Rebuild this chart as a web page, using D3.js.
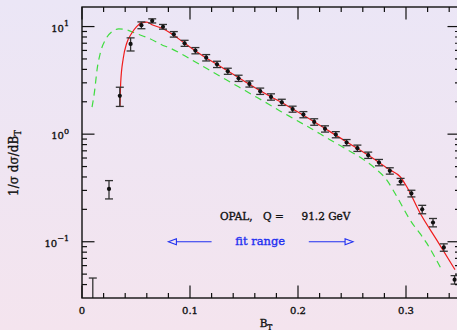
<!DOCTYPE html>
<html>
<head>
<meta charset="utf-8">
<script src="https://cdn.jsdelivr.net/npm/d3@7"></script>
<style>
	html, body { margin: 0; padding: 0; }
	body { width: 457px; height: 330px; overflow: hidden; }
	svg { display: block; }
</style>
</head>
<body>
<div id="chart"></div>
<script>
"use strict";

// OPAL 측정값 (B_T 빈 중심, 1/sigma dsigma/dB_T, 오차)
var btBins = [0.01, 0.025, 0.035, 0.045, 0.055, 0.065, 0.075, 0.085, 0.095, 0.105,
	0.115, 0.125, 0.135, 0.145, 0.155, 0.165, 0.175, 0.185, 0.195, 0.205,
	0.215, 0.225, 0.235, 0.245, 0.255, 0.265, 0.275, 0.285, 0.295, 0.305,
	0.315, 0.325, 0.335, 0.345];
var dataVals = [0.025, 0.31, 2.27, 6.89, 10.3, 11.3, 9.96, 8.48, 7.0, 5.98,
	5.14, 4.46, 3.85, 3.31, 2.93, 2.51, 2.22, 1.98, 1.71, 1.52,
	1.30, 1.12, 0.99, 0.836, 0.741, 0.638, 0.545, 0.456, 0.363, 0.281,
	0.200, 0.151, 0.0886, 0.0444];
var dataErrs = [0.021, 0.06, 0.46, 0.96, 0.75, 0.5, 0.5, 0.5, 0.45, 0.4,
	0.35, 0.3, 0.25, 0.22, 0.19, 0.17, 0.15, 0.13, 0.11, 0.10,
	0.09, 0.075, 0.065, 0.055, 0.05, 0.043, 0.037, 0.031, 0.025, 0.02,
	0.018, 0.0135, 0.007, 0.004];

// 이론 곡선 (빨강: 실선, 초록: 점선)
var redBt = [0.0352, 0.0358, 0.0382, 0.0414, 0.046, 0.0506, 0.0553, 0.06, 0.0648, 0.0741,
	0.0833, 0.095, 0.11, 0.13, 0.15, 0.17, 0.19, 0.21, 0.23, 0.25,
	0.27, 0.285, 0.2944, 0.3006, 0.313, 0.3284, 0.3454];
var redVals = [1.79, 2.98, 5.08, 7.0, 8.67, 9.98, 10.9, 11.0, 10.4, 9.64,
	8.53, 7.0, 5.5, 4.15, 3.12, 2.37, 1.84, 1.40, 1.05, 0.79,
	0.59, 0.466, 0.404, 0.326, 0.185, 0.104, 0.055];
var greenBt = [0.0093, 0.0118, 0.0139, 0.0169, 0.0216, 0.0278, 0.034, 0.0417, 0.0494, 0.0618,
	0.0741, 0.0818, 0.0938, 0.103, 0.1139, 0.1278, 0.1386, 0.151, 0.1618, 0.1725,
	0.1849, 0.1956, 0.208, 0.2296, 0.242, 0.2544, 0.2705, 0.2821, 0.2914, 0.3037,
	0.3192, 0.333];
var greenVals = [1.78, 2.58, 3.95, 5.65, 7.51, 8.97, 9.50, 9.30, 8.66, 7.79,
	6.75, 6.29, 5.45, 4.82, 4.17, 3.46, 3.00, 2.54, 2.20, 1.91,
	1.61, 1.40, 1.19, 0.889, 0.753, 0.638, 0.49, 0.376, 0.264, 0.160,
	0.097, 0.055];

// 축 눈금
var xMajorTicks = [0, 0.1, 0.2, 0.3];
var xTickLabels = ["0", "0.1", "0.2", "0.3"];
var yMajorTicks = [0.1, 1, 10];
var yTickExps = ["\u22121", "0", "1"];

// fit range 주석 (화살표 구간)
var fitArrowLeft = [0.12, 0.08];
var fitArrowRight = [0.21, 0.251];
var fitLevel = 0.1;

(function() {
	var W = 457, H = 330;
	var x = d3.scaleLinear().domain([0, 0.35]).range([82, 460]);
	var y = d3.scaleLog().domain([0.03, 15.2]).range([298, 7]);
	var x0 = x.range()[0], x1 = x.range()[1], y0 = y.range()[0], y1 = y.range()[1];

	var svg = d3.select("#chart").append("svg")
		.attr("width", W).attr("height", H);

	var defs = svg.append("defs");
	var grad = defs.append("linearGradient").attr("id", "bg")
		.attr("x1", 0).attr("y1", 0).attr("x2", 0).attr("y2", 1);
	grad.append("stop").attr("offset", "0%").attr("stop-color", "#ebe6f6");
	grad.append("stop").attr("offset", "100%").attr("stop-color", "#f4e4ee");
	defs.append("clipPath").attr("id", "plotclip")
		.append("rect").attr("x", x0).attr("y", y1)
		.attr("width", x1 - x0).attr("height", y0 - y1);

	svg.append("rect").attr("width", W).attr("height", H).attr("fill", "url(#bg)");

	var plot = svg.append("g").attr("clip-path", "url(#plotclip)");

	// 곡선
	var line = d3.line()
		.x(function(d) { return x(d[0]); })
		.y(function(d) { return y(d[1]); })
		.curve(d3.curveMonotoneX);

	plot.append("path")
		.datum(d3.zip(greenBt, greenVals))
		.attr("d", line)
		.attr("fill", "none")
		.attr("stroke", "#3fdc3f")
		.attr("stroke-width", 1.2)
		.attr("stroke-dasharray", "7,5");

	plot.append("path")
		.datum(d3.zip(redBt, redVals))
		.attr("d", line)
		.attr("fill", "none")
		.attr("stroke", "#f01c1c")
		.attr("stroke-width", 1.2);

	// 데이터 포인트 + 오차막대
	var pts = d3.zip(btBins, dataVals, dataErrs);
	var pg = plot.selectAll("g.pt").data(pts).enter().append("g").attr("class", "pt");
	var lo = function(d) { return y(Math.max(d[1] - d[2], 0.001)); };
	var hi = function(d) { return y(d[1] + d[2]); };
	pg.append("line")
		.attr("x1", function(d) { return x(d[0]); })
		.attr("x2", function(d) { return x(d[0]); })
		.attr("y1", lo).attr("y2", hi)
		.attr("stroke", "#333").attr("stroke-width", 1.3);
	pg.append("line")
		.attr("x1", function(d) { return x(d[0]) - 4; })
		.attr("x2", function(d) { return x(d[0]) + 4; })
		.attr("y1", hi).attr("y2", hi)
		.attr("stroke", "#333").attr("stroke-width", 1.3);
	pg.append("line")
		.attr("x1", function(d) { return x(d[0]) - 4; })
		.attr("x2", function(d) { return x(d[0]) + 4; })
		.attr("y1", lo).attr("y2", lo)
		.attr("stroke", "#333").attr("stroke-width", 1.3);
	pg.append("circle")
		.attr("cx", function(d) { return x(d[0]); })
		.attr("cy", function(d) { return y(d[1]); })
		.attr("r", 2.1)
		.attr("fill", "#111");

	// 축 (네 변 모두 안쪽 눈금)
	var axisG = svg.append("g").attr("stroke", "#111").attr("fill", "none");
	axisG.append("rect").attr("x", x0).attr("y", y1)
		.attr("width", x1 - x0).attr("height", y0 - y1)
		.attr("stroke-width", 1.4);

	var xMinor = d3.range(0.02, 0.35, 0.02).filter(function(v) {
		return Math.abs(v * 10 - Math.round(v * 10)) > 1e-6;
	});
	var yMinor = [];
	[0.01, 0.1, 1, 10].forEach(function(dec) {
		for (var k = 2; k <= 9; k++) {
			var v = dec * k;
			if (v > y.domain()[0] && v < y.domain()[1]) yMinor.push(v);
		}
	});

	function xTicks(vals, len) {
		vals.forEach(function(v) {
			axisG.append("line").attr("x1", x(v)).attr("x2", x(v))
				.attr("y1", y0).attr("y2", y0 - len).attr("stroke-width", 1.2);
			axisG.append("line").attr("x1", x(v)).attr("x2", x(v))
				.attr("y1", y1).attr("y2", y1 + len).attr("stroke-width", 1.2);
		});
	}
	function yTicks(vals, len) {
		vals.forEach(function(v) {
			axisG.append("line").attr("x1", x0).attr("x2", x0 + len)
				.attr("y1", y(v)).attr("y2", y(v)).attr("stroke-width", 1.2);
			axisG.append("line").attr("x1", x1).attr("x2", x1 - len)
				.attr("y1", y(v)).attr("y2", y(v)).attr("stroke-width", 1.2);
		});
	}
	xTicks(xMajorTicks, 12.5);
	xTicks(xMinor, 5);
	yTicks(yMajorTicks, 12.5);
	yTicks(yMinor, 5);

	// 눈금 라벨 (원본처럼 약간 굵게: 얇은 stroke)
	var font = "'DejaVu Serif', serif";
	var ink = "#111";
	function bolden(sel, col) {
		return sel.attr("fill", col).attr("stroke", col).attr("stroke-width", 0.35);
	}
	bolden(svg.selectAll("text.xl").data(xMajorTicks).enter().append("text")
		.attr("x", function(d) { return x(d); })
		.attr("y", 313.5)
		.attr("text-anchor", "middle")
		.attr("font-family", font).attr("font-size", 10)
		.text(function(d, i) { return xTickLabels[i]; }), ink);

	var yl = bolden(svg.selectAll("text.yl").data(yMajorTicks).enter().append("text")
		.attr("x", 69)
		.attr("y", function(d) { return y(d) + 5; })
		.attr("text-anchor", "end")
		.attr("font-family", font).attr("font-size", 10), ink);
	yl.append("tspan").text("10");
	yl.append("tspan").attr("dy", -5.5).attr("font-size", 8)
		.text(function(d, i) { return yTickExps[i]; });

	// 축 제목
	var yt = bolden(svg.append("text")
		.attr("transform", "translate(18,163) rotate(-90)")
		.attr("text-anchor", "middle")
		.attr("font-family", font).attr("font-size", 12), ink);
	yt.append("tspan").text("1/\u03c3  d\u03c3/dB");
	yt.append("tspan").attr("dy", 3).attr("font-size", 8.5).text("T");

	var xt = bolden(svg.append("text")
		.attr("x", 266).attr("y", 327)
		.attr("text-anchor", "middle")
		.attr("font-family", font).attr("font-size", 10.5), ink);
	xt.append("tspan").text("B");
	xt.append("tspan").attr("dy", 2.5).attr("font-size", 7.5).text("T");

	// 주석
	var ann = bolden(svg.append("g").attr("font-family", font).attr("font-size", 10.5), ink);
	ann.append("text").attr("x", 220).attr("y", 220).text("OPAL,");
	ann.append("text").attr("x", 263).attr("y", 220).text("Q =");
	ann.append("text").attr("x", 301.5).attr("y", 220).text("91.2 GeV");

	var blue = "#1f2ff0";
	var fy = y(fitLevel);
	bolden(svg.append("text")
		.attr("x", (x(fitArrowLeft[0]) + x(fitArrowRight[0])) / 2)
		.attr("y", fy + 3.5)
		.attr("text-anchor", "middle")
		.attr("font-family", font).attr("font-size", 11.5)
		.text("fit range"), blue);

	function arrow(a) {
		var xs = x(a[0]), xe = x(a[1]);
		var dir = xe > xs ? 1 : -1;
		var g = svg.append("g").attr("stroke", blue).attr("stroke-width", 1.1).attr("fill", "none");
		g.append("line").attr("x1", xs).attr("x2", xe - dir * 8).attr("y1", fy).attr("y2", fy);
		g.append("path")
			.attr("d", "M" + xe + "," + fy + "L" + (xe - dir * 8) + "," + (fy - 3) +
				"L" + (xe - dir * 8) + "," + (fy + 3) + "Z");
	}
	arrow(fitArrowLeft);
	arrow(fitArrowRight);
})();
</script>
</body>
</html>
